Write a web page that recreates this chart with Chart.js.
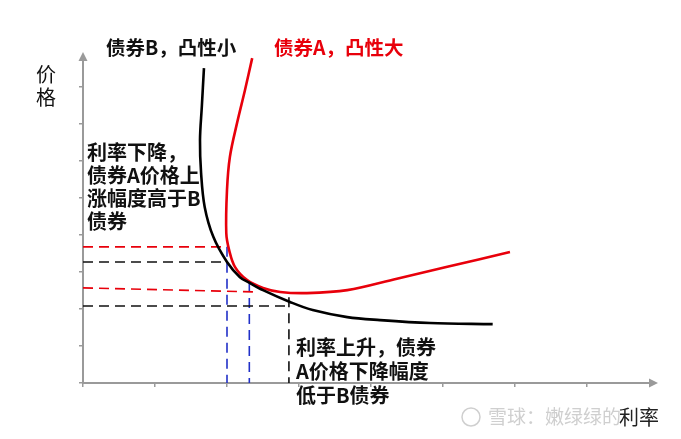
<!DOCTYPE html>
<html lang="zh-CN">
<head>
  <meta charset="UTF-8">
  <title>债券凸性</title>
  <script src="https://cdn.jsdelivr.net/npm/chart.js"></script>
  <style>
    body { margin: 0; background: #fff; }
    .box { width: 681px; height: 439px; position: relative; }
  </style>
</head>
<body>
  <div class="box"><canvas id="grafico"></canvas></div>
  <script>
    // curva do título B (convexidade pequena)
    const rateB  = [1.68, 1.65, 1.625, 1.64, 1.69, 1.81, 2.00, 2.18, 2.32, 2.50, 2.875, 3.19, 3.67, 4.125, 4.82, 5.69];
    const priceB = [8.51, 7.46, 6.57, 5.68, 4.76, 3.95, 3.27, 2.86, 2.70, 2.51, 2.19, 1.97, 1.78, 1.70, 1.62, 1.59];
    // curva do título A (convexidade grande)
    const rateA  = [2.35, 2.25, 2.14, 2.04, 2.00, 1.99, 2.03, 2.11, 2.28, 2.50, 2.74, 3.11, 3.67, 4.36, 5.06, 5.93];
    const priceA = [8.78, 7.92, 7.03, 6.11, 5.22, 4.05, 3.59, 3.14, 2.78, 2.57, 2.46, 2.43, 2.51, 2.82, 3.14, 3.54];

    // linhas tracejadas de referência
    const redGuideHi  = [[0, 3.68], [2.0, 3.68]];
    const blackGuideHi = [[0, 3.27], [1.99, 3.27]];
    const redGuideLo  = [[0, 2.57], [2.42, 2.46]];
    const blackGuideLo = [[0, 2.08], [2.86, 2.08]];
    const blueDrop1 = [[2.0, 3.68], [2.0, 0]];
    const blueDrop2 = [[2.31, 2.73], [2.31, 0]];
    const blackDrop = [[2.86, 2.32], [2.86, 0]];

    // textos
    const titleB = '债券B，凸性小';
    const titleA = '债券A，凸性大';
    const yLabel = ['价', '格'];
    const xLabel = '利率';
    const noteFall = ['利率下降，', '债券A价格上', '涨幅度高于B', '债券'];
    const noteRise = ['利率上升，债券', 'A价格下降幅度', '低于B债券'];
    const watermark = '雪球：嫩绿绿的';

    const pts = (xs, ys) => xs.map((x, i) => ({x, y: ys[i]}));
    const pairs = arr => arr.map(p => ({x: p[0], y: p[1]}));

    const RED = '#e8000b', GRAY = '#9a9a9a', CJK = '"Noto Sans CJK SC", sans-serif';

    function curva(data, cor) {
      return { data, borderColor: cor, borderWidth: 2.6, showLine: true, tension: 0.35,
               pointRadius: 0, clip: false, fill: false };
    }
    function guia(data, cor) {
      return { data, borderColor: cor, borderWidth: 1.6, borderDash: [10, 6], showLine: true,
               tension: 0, pointRadius: 0, clip: false };
    }

    // setas e textos
    const extras = {
      id: 'extras',
      afterDraw(chart) {
        const ctx = chart.ctx, a = chart.chartArea;
        ctx.save();
        ctx.fillStyle = GRAY;
        ctx.beginPath();
        ctx.moveTo(a.right + 8, a.bottom); ctx.lineTo(a.right - 1, a.bottom - 4.5); ctx.lineTo(a.right - 1, a.bottom + 4.5);
        ctx.closePath(); ctx.fill();
        ctx.beginPath();
        ctx.moveTo(a.left, a.top - 8); ctx.lineTo(a.left - 4.5, a.top + 1); ctx.lineTo(a.left + 4.5, a.top + 1);
        ctx.closePath(); ctx.fill();

        ctx.textBaseline = 'middle';
        ctx.textAlign = 'left';
        ctx.font = 'bold 19.5px ' + CJK;
        ctx.fillStyle = '#111';
        ctx.fillText(titleB, 106, 48);
        ctx.fillStyle = RED;
        ctx.fillText(titleA, 274, 48);

        ctx.font = 'bold 20px ' + CJK;
        ctx.fillStyle = '#111';
        noteFall.forEach((t, i) => ctx.fillText(t, 87, 152 + i * 23));
        noteRise.forEach((t, i) => ctx.fillText(t, 296, 347 + i * 24));

        ctx.font = '20px ' + CJK;
        ctx.textAlign = 'center';
        yLabel.forEach((t, i) => ctx.fillText(t, 46, 74 + i * 23));

        // marca d'água
        ctx.textAlign = 'left';
        ctx.fillStyle = '#cfcfcf';
        ctx.strokeStyle = '#cfcfcf';
        ctx.lineWidth = 1.5;
        ctx.beginPath(); ctx.arc(471, 417, 9, 0, Math.PI * 2); ctx.stroke();
        ctx.font = '19px ' + CJK;
        ctx.fillText(watermark, 488, 417);
        ctx.fillStyle = '#222';
        ctx.font = '20px ' + CJK;
        ctx.fillText(xLabel, 619, 417);
        ctx.restore();
      }
    };

    const eixo = (max, fit) => ({
      type: 'linear', min: 0, max,
      afterFit: fit,
      ticks: { display: false, stepSize: 1, includeBounds: false },
      grid: { drawOnChartArea: false, drawTicks: true, tickLength: 4, color: GRAY, lineWidth: 1.5 },
      border: { color: GRAY, width: 2 }
    });

    new Chart(document.getElementById('grafico'), {
      type: 'scatter',
      data: {
        datasets: [
          curva(pts(rateB, priceB), '#000'),
          curva(pts(rateA, priceA), RED),
          guia(pairs(redGuideHi), RED),
          guia(pairs(blackGuideHi), '#111'),
          guia(pairs(redGuideLo), RED),
          guia(pairs(blackGuideLo), '#111'),
          guia(pairs(blueDrop1), '#2130c8'),
          guia(pairs(blueDrop2), '#2130c8'),
          guia(pairs(blackDrop), '#111')
        ]
      },
      options: {
        responsive: true,
        maintainAspectRatio: false,
        animation: false,
        layout: { padding: { left: 79, right: 31, top: 60, bottom: 52 } },
        plugins: { legend: { display: false }, tooltip: { enabled: false } },
        scales: {
          x: eixo(7.875, s => { s.height = 4; }),
          y: eixo(8.73, s => { s.width = 4; })
        }
      },
      plugins: [extras]
    });
  </script>
</body>
</html>
